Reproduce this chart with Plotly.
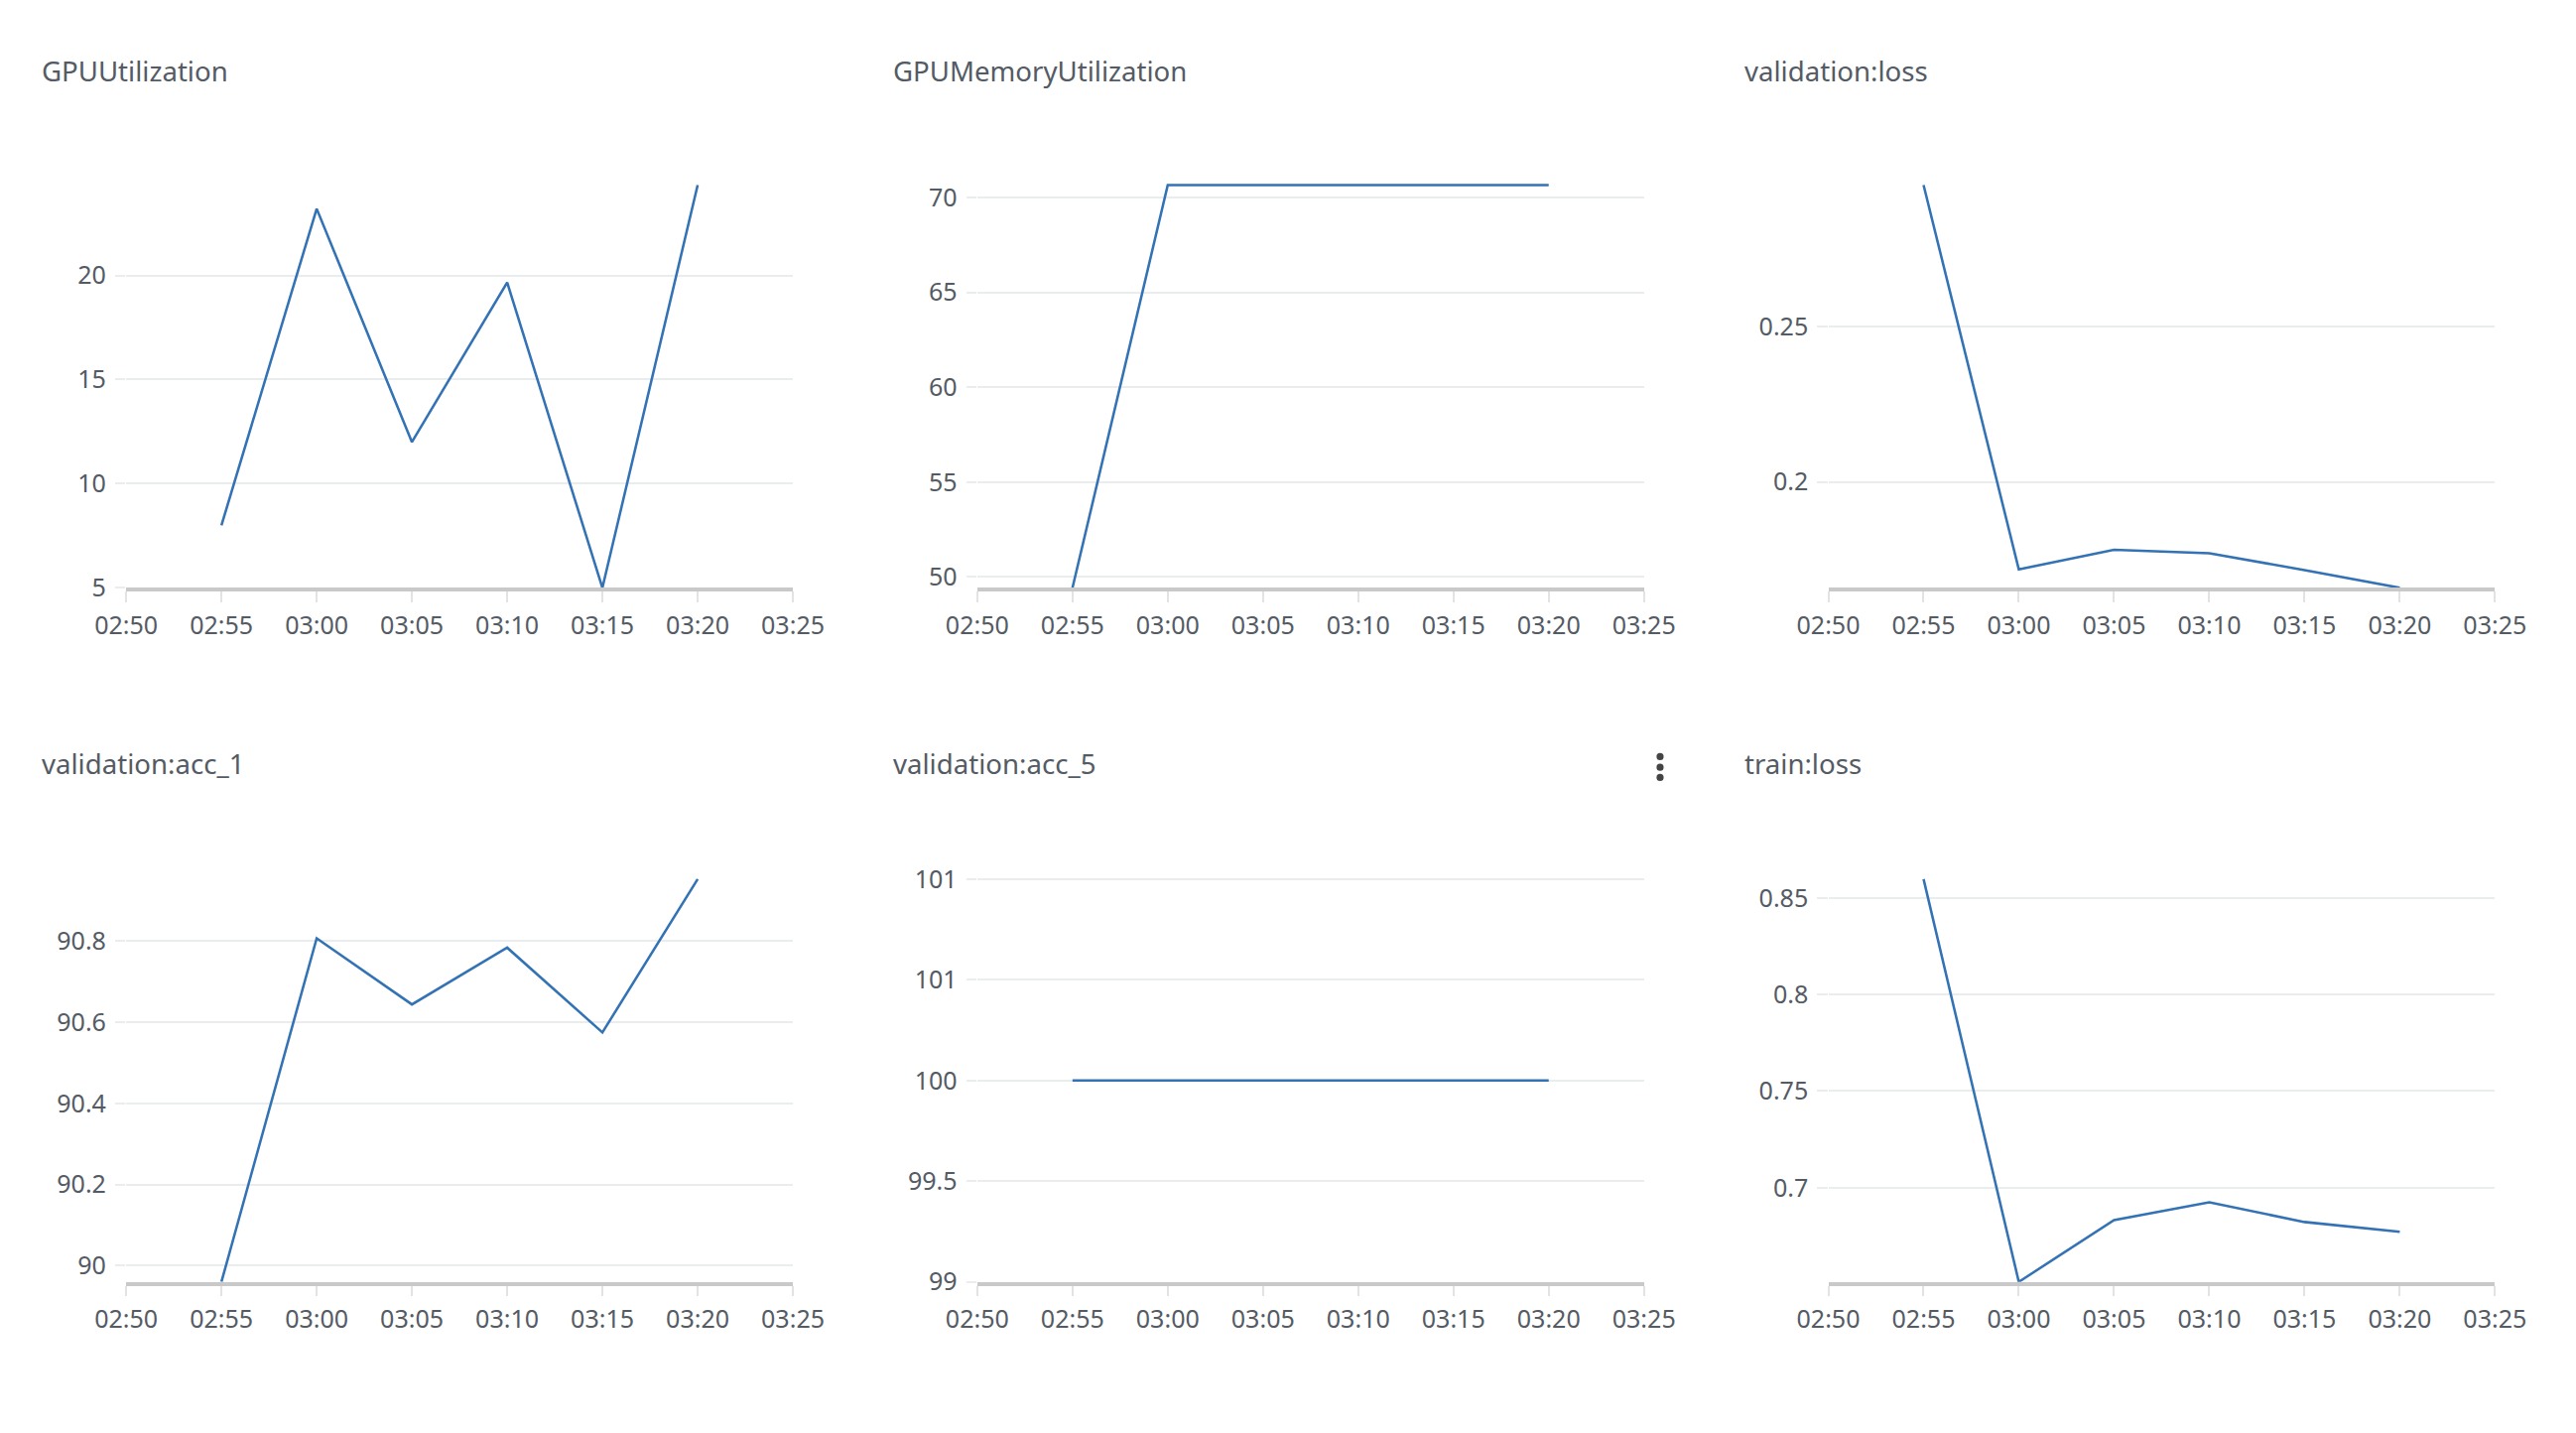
import plotly.graph_objects as go

# ---------------- data ----------------
DAY = "2024-01-01 "
times = ["02:55", "03:00", "03:05", "03:10", "03:15", "03:20"]
x_range = ["02:50", "03:25"]

titles = ["GPUUtilization", "GPUMemoryUtilization", "validation:loss",
          "validation:acc_1", "validation:acc_5", "train:loss"]

gpu_util = [8.0, 23.2, 12.0, 19.66, 5.0, 24.34]
gpu_mem = [49.43, 70.65, 70.65, 70.65, 70.65, 70.65]
val_loss = [0.2954, 0.1719, 0.1782, 0.1771, 0.1717, 0.166]
val_acc1 = [89.96, 90.807, 90.644, 90.784, 90.575, 90.953]
val_acc5 = [100, 100, 100, 100, 100, 100]
train_loss = [0.8598, 0.6512, 0.6832, 0.6924, 0.6822, 0.6771]

ytick_vals = [
    [5, 10, 15, 20],
    [50, 55, 60, 65, 70],
    [0.2, 0.25],
    [90, 90.2, 90.4, 90.6, 90.8],
    [99, 99.5, 100, 100.5, 101],
    [0.7, 0.75, 0.8, 0.85],
]
ytick_text = [
    ["5", "10", "15", "20"],
    ["50", "55", "60", "65", "70"],
    ["0.2", "0.25"],
    ["90", "90.2", "90.4", "90.6", "90.8"],
    ["99", "99.5", "100", "101", "101"],
    ["0.7", "0.75", "0.8", "0.85"],
]
acc5_range = [99, 101]

series = [gpu_util, gpu_mem, val_loss, val_acc1, val_acc5, train_loss]

# ---------------- layout helpers ----------------
W, H = 2596, 1444
# the photographed page appears scaled about its centre; compensate
S = 0.978
CX, CY = W / 2, H / 2


def px(x):
    return CX + (x - CX) / S


def py(y):
    return CY + (y - CY) / S


def sz(v):
    return v / S


LINE = "#3372b4"
TXT = "#545b64"
GRID = "#eaeded"
AXIS = "#c9c9c9"
FONT = "Noto Sans"

col_x0 = [124, 984, 1844]
plot_w = 673.7
row_bot = [591.7, 1291.7]
plot_h = 406.2
title_x0 = 37
title_y = [70, 769]

fig = go.Figure()
x_vals = [DAY + t for t in times]

for i, ys in enumerate(series):
    r, c = divmod(i, 3)
    idx = "" if i == 0 else str(i + 1)
    xa, ya = "x" + idx, "y" + idx
    fig.add_trace(go.Scatter(x=x_vals, y=ys, mode="lines", xaxis=xa, yaxis=ya,
                             line=dict(color=LINE, width=sz(2.5)), showlegend=False))
    if i == 4:
        lo, hi = acc5_range
    else:
        lo, hi = min(ys), max(ys)
    pad = (hi - lo) * 1.5 / plot_h
    yr = [lo, hi + pad]
    top_px = row_bot[r] - plot_h - 1.5
    xdom = [px(col_x0[c]) / W, px(col_x0[c] + plot_w) / W]
    ydom = [1 - py(row_bot[r]) / H, 1 - py(top_px) / H]
    fig.layout["xaxis" + idx] = dict(
        domain=xdom, anchor=ya, type="date",
        range=[DAY + x_range[0], DAY + x_range[1]],
        dtick=5 * 60 * 1000, tick0=DAY + "02:50", tickformat="%H:%M",
        showgrid=False, zeroline=False,
        showline=True, linecolor=AXIS, linewidth=sz(4),
        ticks="outside", ticklen=sz(10), tickwidth=sz(2), tickcolor="#e3e3e3",
        ticklabelstandoff=2,
        tickfont=dict(family=FONT, size=sz(24.5), color=TXT),
        fixedrange=True,
    )
    fig.layout["yaxis" + idx] = dict(
        domain=ydom, anchor=xa, range=yr,
        tickmode="array", tickvals=ytick_vals[i], ticktext=ytick_text[i],
        showgrid=True, gridcolor=GRID, gridwidth=sz(2),
        zeroline=False, showline=False,
        ticks="outside", ticklen=sz(10), tickwidth=sz(2), tickcolor=GRID,
        ticklabelstandoff=4,
        tickfont=dict(family=FONT, size=sz(24.5), color=TXT),
        fixedrange=True,
    )
    fig.add_annotation(
        text=titles[i], xref="paper", yref="paper",
        x=px(title_x0 + 860 * c) / W,
        y=1 - py(title_y[r]) / H,
        xanchor="left", yanchor="middle", showarrow=False,
        font=dict(family=FONT, size=sz(27), color=TXT),
    )

# kebab menu icon on the acc_5 panel
for cy in [762, 772.7, 783]:
    fig.add_shape(type="circle", xref="paper", yref="paper",
                  x0=px(1674 - 3.6) / W, x1=px(1674 + 3.6) / W,
                  y0=1 - py(cy + 3.6) / H, y1=1 - py(cy - 3.6) / H,
                  fillcolor="#444444", line=dict(width=0))

fig.update_layout(
    width=W, height=H,
    margin=dict(l=0, r=0, t=0, b=0),
    paper_bgcolor="white", plot_bgcolor="white",
    font=dict(family=FONT, color=TXT),
    showlegend=False,
)

fig.write_html(
    "out.html",
    config={"displayModeBar": False},
    post_script="document.body.style.margin='0';document.body.style.overflow='hidden';",
)
